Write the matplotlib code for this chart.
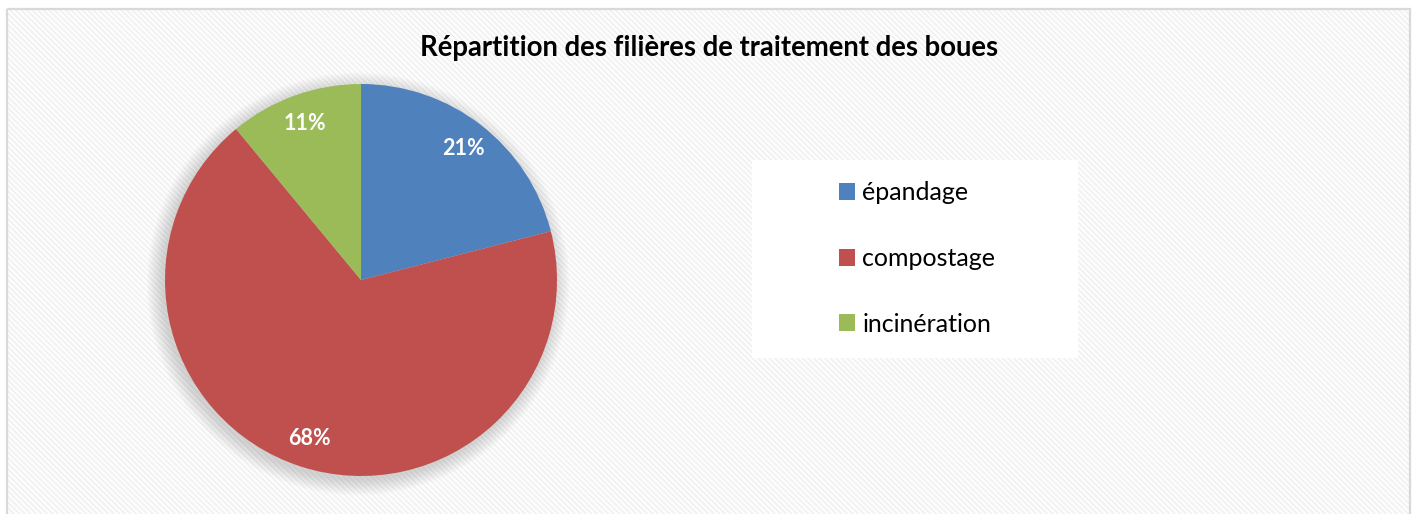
import matplotlib
matplotlib.use('Agg')
import matplotlib.pyplot as plt
from matplotlib.patches import Rectangle, Circle

# data
categories = ['épandage', 'compostage', 'incinération']
shares = [21, 68, 11]
colors = ['#4F81BD', '#C0504D', '#9BBB59']
title = 'Répartition des filières de traitement des boues'

plt.rcParams['font.family'] = ['Lato', 'DejaVu Sans']
plt.rcParams['hatch.linewidth'] = 1.5

W, H = 1413, 514
fig = plt.figure(figsize=(W / 100, H / 100), dpi=100)
fig.patch.set_facecolor('white')

# background axes: striped area, frame, legend box
bg = fig.add_axes([0, 0, 1, 1], zorder=-1)
bg.set_xlim(0, W)
bg.set_ylim(H, 0)
bg.axis('off')
bg.add_patch(Rectangle((7, 8), 1403, H, facecolor='white',
                       edgecolor='#f2f2f2', hatch='\\' * 6, lw=0))
bg.add_patch(Rectangle((7, 8.5), 1403, H + 5, facecolor='none',
                       edgecolor='#d9d9d9', lw=1.6))
bg.add_patch(Rectangle((752, 160), 1078 - 752, 358 - 160,
                       facecolor='white', edgecolor='none'))

# pie axes
cx, cy, r = 361, 280, 196
ax = fig.add_axes([(cx - r) / W, (H - cy - r) / H, 2 * r / W, 2 * r / H], zorder=1)
ax.set_facecolor('none')

# soft shadow
for i in range(14):
    ax.add_patch(Circle((-0.015, -0.02), 1.0 + 0.006 * i, facecolor='#7f7f7f',
                        alpha=0.025, lw=0, zorder=0, clip_on=False))

wedges, texts, autotexts = ax.pie(
    shares, colors=colors, startangle=90, counterclock=False,
    autopct='%d%%', pctdistance=0.85, radius=1.0,
    wedgeprops=dict(linewidth=0, zorder=2),
    textprops=dict(color='white', fontsize=15.5, fontweight='bold'))
for t in autotexts:
    t.set_zorder(3)
ax.set_xlim(-1, 1)
ax.set_ylim(-1, 1)
ax.set_aspect('equal')

fig.text(709 / W, 1 - 48 / H, title, ha='center', va='center',
         fontsize=19.8, fontweight='bold', color='black')

leg = fig.legend(wedges, categories, loc='center',
                 bbox_to_anchor=(917 / W, 1 - 258.5 / H), frameon=False,
                 fontsize=18, labelspacing=1.7, handlelength=0.65,
                 handleheight=0.65, handletextpad=0.3)

fig.savefig('out.png', dpi=100)
